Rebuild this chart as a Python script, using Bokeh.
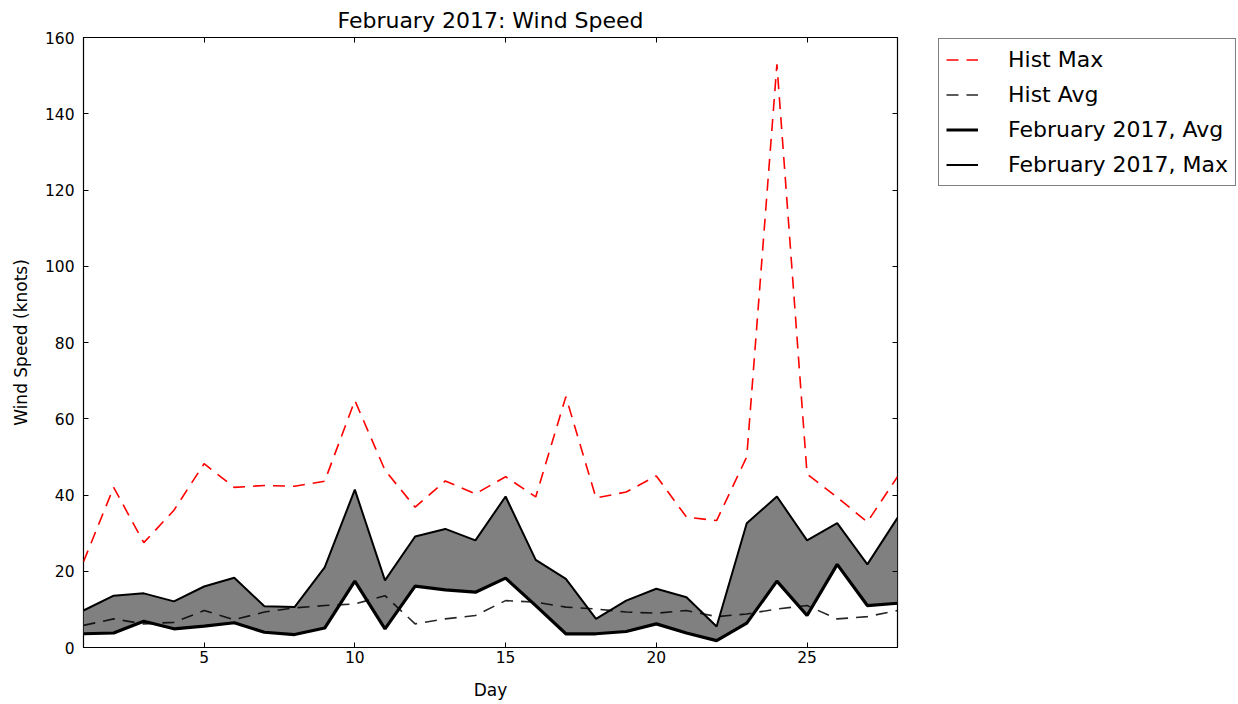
from bokeh.plotting import figure
from bokeh.layouts import row
from bokeh.models import Range1d, LinearAxis, FixedTicker, Legend, LegendItem, ColumnDataSource
from bokeh.embed import file_html
from bokeh.resources import INLINE

days = list(range(1, 29))
hist_max = [22.5, 42, 27.5, 36, 48.2, 42, 42.5, 42.3, 43.6, 64.8, 46.5, 36.8, 43.7, 40.3,
            44.8, 39.5, 65.8, 39.2, 40.8, 45, 34.2, 33.3, 50, 153, 45.5, 39.4, 32.9, 44.8]
hist_avg = [5.8, 7.5, 6.2, 6.6, 9.7, 7.3, 9.3, 10.4, 11, 11.4, 13.6, 6.2, 7.5, 8.4,
            12.3, 11.9, 10.6, 10.1, 9.3, 9.0, 9.7, 8.1, 8.8, 10.1, 11, 7.5, 8.1, 9.7]
feb_max = [9.7, 13.6, 14.2, 12.1, 16, 18.3, 10.8, 10.6, 21, 41.4, 17.6, 29.1, 31.1, 28.1,
           39.6, 23, 18, 7.5, 12.3, 15.4, 13.2, 5.5, 32.6, 39.6, 28.1, 32.6, 21.8, 34]
feb_avg = [3.6, 3.8, 6.9, 4.9, 5.6, 6.5, 4.0, 3.4, 5.1, 17.4, 4.9, 16.1, 15.1, 14.5,
           18.2, 11, 3.6, 3.6, 4.2, 6.2, 3.8, 1.8, 6.4, 17.4, 8.4, 21.8, 11, 11.6]
x_ticks = [5, 10, 15, 20, 25]
y_ticks = [0, 20, 40, 60, 80, 100, 120, 140, 160]
labels = ["Hist Max", "Hist Avg", "February 2017, Avg", "February 2017, Max"]

FONT = "DejaVu Sans"
DASH = "12 8"

src = ColumnDataSource(dict(day=days, hist_max=hist_max, hist_avg=hist_avg,
                            feb_max=feb_max, feb_avg=feb_avg))

p = figure(width=930, height=700, frame_width=814, frame_height=610,
           x_range=Range1d(1, 28), y_range=Range1d(0, 160),
           output_backend="svg", toolbar_location=None,
           min_border_left=83, min_border_right=33, min_border_top=37, min_border_bottom=53,
           title="February 2017: Wind Speed")
p.background_fill_color = "white"
p.border_fill_color = "white"
p.outline_line_color = "black"
p.outline_line_width = 1.2
p.xgrid.visible = False
p.ygrid.visible = False

p.title.align = "center"
p.title.text_font = FONT
p.title.text_font_size = "22px"
p.title.text_font_style = "normal"
p.title.text_color = "black"
p.title.standoff = 9

for ax in [p.xaxis[0], p.yaxis[0]]:
    ax.major_tick_in = 5
    ax.major_tick_out = 0
    ax.minor_tick_line_color = None
    ax.axis_line_color = None
    ax.major_tick_line_color = "black"
    ax.major_label_text_font = FONT
    ax.major_label_text_font_size = "15.5px"
    ax.major_label_text_color = "black"
    ax.axis_label_text_font = FONT
    ax.axis_label_text_font_size = "17px"
    ax.axis_label_text_font_style = "normal"
    ax.axis_label_text_color = "black"

p.xaxis[0].ticker = FixedTicker(ticks=x_ticks)
p.yaxis[0].ticker = FixedTicker(ticks=y_ticks)
p.xaxis[0].axis_label = "Day"
p.yaxis[0].axis_label = "Wind Speed (knots)"
p.xaxis[0].major_label_standoff = 3
p.yaxis[0].major_label_standoff = 9
p.xaxis[0].axis_label_standoff = 14
p.yaxis[0].axis_label_standoff = 11

# mirrored ticks on top and right (fixed at the range edges, take no space)
top = LinearAxis(ticker=FixedTicker(ticks=x_ticks), fixed_location=160,
                 major_label_text_color=None,
                 major_tick_in=5, major_tick_out=0, minor_tick_line_color=None,
                 axis_line_color=None, major_label_standoff=0)
right = LinearAxis(ticker=FixedTicker(ticks=y_ticks), fixed_location=28,
                   major_label_text_color=None,
                   major_tick_in=5, major_tick_out=0, minor_tick_line_color=None,
                   axis_line_color=None, major_label_standoff=0)
p.add_layout(top, "above")
p.add_layout(right, "right")

p.varea(x="day", y1="feb_avg", y2="feb_max", source=src, fill_color="#808080")
p.line("day", "hist_max", source=src, line_color="red", line_width=1.6, line_dash=DASH)
p.line("day", "hist_avg", source=src, line_color="black", line_width=1.6, line_dash=DASH,
       line_alpha=0.85)
p.line("day", "feb_avg", source=src, line_color="black", line_width=3.2)
p.line("day", "feb_max", source=src, line_color="black", line_width=2)

# legend panel (separate figure to the right; legend entries use the same line styles)
q = figure(width=307, height=700, x_range=Range1d(0, 1), y_range=Range1d(0, 1),
           x_axis_type=None, y_axis_type=None, output_backend="svg", toolbar_location=None,
           min_border_left=7, min_border_right=0, min_border_top=37, min_border_bottom=53)
q.outline_line_color = None
q.background_fill_color = "white"
q.border_fill_color = "white"
nan = float("nan")


def proxy():
    return ColumnDataSource(dict(x=[nan], y=[nan]))


g1 = q.line(x="x", y="y", source=proxy(), line_color="red", line_width=1.6, line_dash=DASH)
g2 = q.line(x="x", y="y", source=proxy(), line_color="black", line_width=1.6,
            line_dash=DASH, line_alpha=0.85)
g3 = q.line(x="x", y="y", source=proxy(), line_color="black", line_width=3.2)
g4 = q.line(x="x", y="y", source=proxy(), line_color="black", line_width=2)

legend = Legend(items=[LegendItem(label=l, renderers=[g]) for l, g in zip(labels, [g1, g2, g3, g4])],
                location="top_left")
legend.label_text_font = FONT
legend.label_text_font_size = "22px"
legend.label_text_color = "black"
legend.glyph_width = 32
legend.glyph_height = 27
legend.label_height = 27
legend.label_width = 218
legend.label_standoff = 30
legend.spacing = 8
legend.padding = 7
legend.margin = 1
legend.border_line_color = "black"
legend.border_line_width = 1.2
legend.background_fill_color = "white"
legend.background_fill_alpha = 1
q.add_layout(legend, "center")

layout = row(p, q, spacing=0)
open("out.html", "w").write(file_html(layout, INLINE))
